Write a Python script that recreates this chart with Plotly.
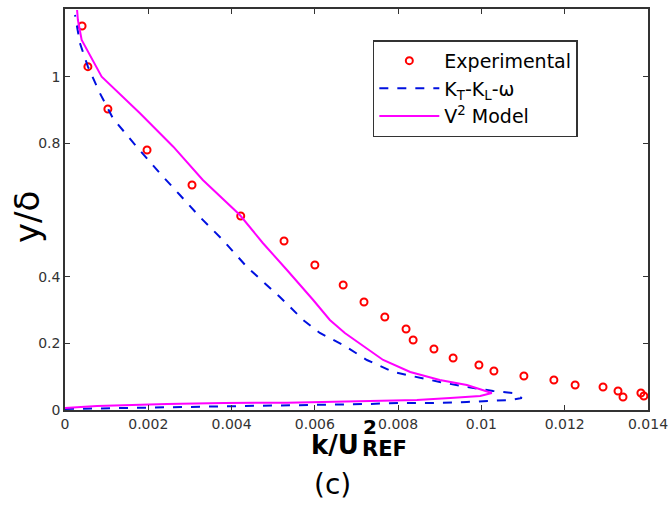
import plotly.graph_objects as go

exp_x = [0.00041, 0.00055, 0.00103, 0.00197, 0.00305, 0.00422, 0.00526, 0.0060, 0.00668,
         0.00718, 0.00768, 0.00819, 0.00836, 0.00886, 0.00932, 0.00994, 0.0103, 0.01102,
         0.01174, 0.01225, 0.01292, 0.01328, 0.0134, 0.01383, 0.0139]
exp_y = [1.152, 1.03, 0.903, 0.78, 0.675, 0.582, 0.507, 0.435, 0.375,
         0.324, 0.279, 0.243, 0.21, 0.183, 0.156, 0.135, 0.117, 0.102,
         0.09, 0.075, 0.069, 0.057, 0.039, 0.051, 0.042]

kt_x = [0.0, 0.0014, 0.004, 0.00644, 0.00725, 0.00804, 0.00884, 0.00965, 0.01013, 0.01069,
        0.01097, 0.01076, 0.01028, 0.00965, 0.009, 0.00845, 0.00788, 0.00725, 0.00668,
        0.00612, 0.00572, 0.00516, 0.00437, 0.00379, 0.00324, 0.00276, 0.00228, 0.00172,
        0.00115, 0.00084, 0.00055, 0.00036, 0.00024]
kt_y = [0.003, 0.006, 0.01, 0.015, 0.018, 0.021, 0.021, 0.024, 0.027, 0.03,
        0.036, 0.051, 0.057, 0.069, 0.084, 0.099, 0.114, 0.15, 0.195,
        0.231, 0.27, 0.339, 0.429, 0.51, 0.579, 0.645, 0.71, 0.79,
        0.875, 0.95, 1.03, 1.10, 1.185]

v2_x = [0.0, 0.00077, 0.00245, 0.0038, 0.00533, 0.00684, 0.00845, 0.00925, 0.00997, 0.01025,
        0.00965, 0.009, 0.00829, 0.00764, 0.00708, 0.00672, 0.00636, 0.00596, 0.00533,
        0.00475, 0.0042, 0.00331, 0.0026, 0.0018, 0.00088, 0.0004, 0.00031, 0.00029]
v2_y = [0.006, 0.012, 0.018, 0.021, 0.022, 0.026, 0.03, 0.036, 0.042, 0.051,
        0.075, 0.09, 0.114, 0.15, 0.201, 0.231, 0.27, 0.33, 0.42,
        0.501, 0.585, 0.69, 0.79, 0.89, 1.0, 1.11, 1.17, 1.2]

x_ticks = [0, 0.002, 0.004, 0.006, 0.008, 0.01, 0.012, 0.014]
x_labels = ["0", "0.002", "0.004", "0.006", "0.008", "0.01", "0.012", "0.014"]
y_ticks = [0, 0.2, 0.4, 0.8, 1]
y_labels = ["0", "0.2", "0.4", "0.8", "1"]

fig = go.Figure()
fig.add_trace(go.Scatter(x=exp_x, y=exp_y, mode="markers", name="Experimental",
                         marker=dict(symbol="circle-open", size=7, color="red",
                                     line=dict(width=2, color="red"))))
fig.add_trace(go.Scatter(x=kt_x, y=kt_y, mode="lines", name="K<sub>T</sub>-K<sub>L</sub>-ω",
                         line=dict(color="#0010e0", width=2, dash="dash")))
fig.add_trace(go.Scatter(x=v2_x, y=v2_y, mode="lines", name="V<sup>2</sup> Model",
                         line=dict(color="#ff00ff", width=2)))

axis_common = dict(showgrid=False, zeroline=False, showline=True, linecolor="#333333",
                   linewidth=1.5, mirror="ticks", ticks="inside", ticklen=5,
                   tickcolor="#333333", automargin=False,
                   tickfont=dict(family="DejaVu Sans", size=14, color="#333333"))

fig.update_layout(
    width=670, height=506,
    margin=dict(l=65, r=22, t=9, b=96),
    paper_bgcolor="white", plot_bgcolor="white",
    font=dict(family="DejaVu Sans", color="black"),
    xaxis=dict(range=[0, 0.014], tickvals=x_ticks, ticktext=x_labels, **axis_common),
    yaxis=dict(range=[0, 1.203], tickvals=y_ticks, ticktext=y_labels, **axis_common),
    legend=dict(x=0.528, y=0.922, xanchor="left", yanchor="top",
                bordercolor="#333333", borderwidth=1.5, bgcolor="white",
                font=dict(family="DejaVu Sans", size=19, color="black"),
                tracegroupgap=0, itemwidth=60),
    showlegend=True,
)

fig.add_annotation(text="y/δ", xref="paper", yref="paper", x=-(65 - 27) / 583, y=(410 - 217) / 401,
                   xanchor="center", yanchor="middle", showarrow=False, textangle=-90,
                   font=dict(size=34, family="DejaVu Sans", color="black"))
fig.add_annotation(text="<b>k/U</b>", xref="paper", yref="paper", x=(335 - 65) / 583, y=-(445 - 410) / 401,
                   xanchor="center", yanchor="middle", showarrow=False,
                   font=dict(size=26, family="DejaVu Sans", color="black"))
fig.add_annotation(text="<b>2</b>", xref="paper", yref="paper", x=(361 - 65) / 583, y=-(427 - 410) / 401,
                   xanchor="left", yanchor="middle", showarrow=False,
                   font=dict(size=20, family="DejaVu Sans", color="black"))
fig.add_annotation(text="<b>REF</b>", xref="paper", yref="paper", x=(360 - 65) / 583, y=-(449 - 410) / 401,
                   xanchor="left", yanchor="middle", showarrow=False,
                   font=dict(size=21, family="DejaVu Sans", color="black"))
fig.add_annotation(text="(c)", xref="paper", yref="paper", x=(332 - 65) / 583, y=-(484 - 410) / 401,
                   xanchor="center", yanchor="middle", showarrow=False,
                   font=dict(size=28, family="DejaVu Sans", color="black"))

fig.write_html("out.html")
